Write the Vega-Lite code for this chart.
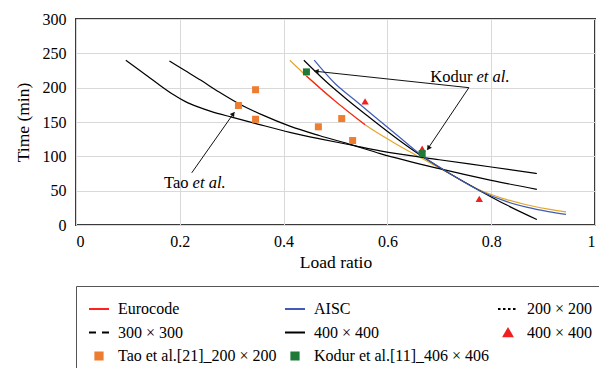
{
  "$schema": "https://vega.github.io/schema/vega-lite/v6.json",
  "width": 519,
  "height": 206,
  "autosize": "none",
  "padding": {"left": 76, "top": 19, "right": 4, "bottom": 143},
  "background": "white",
  "config": {
    "font": "Liberation Serif",
    "view": {"stroke": "#3a3a3a", "strokeWidth": 2},
    "axis": {
      "labelFont": "Liberation Serif", "titleFont": "Liberation Serif",
      "labelFontSize": 16, "titleFontSize": 17.5, "titleFontWeight": "normal",
      "labelColor": "#000", "titleColor": "#000",
      "gridColor": "#d9d9d9", "gridWidth": 1, "domain": false, "ticks": false
    },
    "legend": {
      "labelFont": "Liberation Serif", "labelFontSize": 16, "labelColor": "#000", "labelLimit": 0,
      "symbolSize": 400, "symbolStrokeWidth": 1.8,
      "strokeColor": "#555", "fillColor": "#fff", "padding": 12,
      "columnPadding": 4, "rowPadding": 4.5, "labelOffset": 8
    }
  },
  "datasets": {
    "curves": [
      {"s": "300 × 300", "x": 0.096, "y": 240}, {"s": "300 × 300", "x": 0.125, "y": 224}, {"s": "300 × 300", "x": 0.155, "y": 207},
      {"s": "300 × 300", "x": 0.185, "y": 191}, {"s": "300 × 300", "x": 0.21, "y": 180}, {"s": "300 × 300", "x": 0.235, "y": 172},
      {"s": "300 × 300", "x": 0.26, "y": 165.5}, {"s": "300 × 300", "x": 0.3, "y": 157}, {"s": "300 × 300", "x": 0.35, "y": 147},
      {"s": "300 × 300", "x": 0.412, "y": 135}, {"s": "300 × 300", "x": 0.47, "y": 125.5},
      {"s": "300 × 300", "x": 0.53, "y": 116.5}, {"s": "300 × 300", "x": 0.586, "y": 108}, {"s": "300 × 300", "x": 0.7, "y": 95},
      {"s": "300 × 300", "x": 0.8, "y": 84.5}, {"s": "300 × 300", "x": 0.888, "y": 75},
      {"s": "200 × 200", "x": 0.18, "y": 239}, {"s": "200 × 200", "x": 0.21, "y": 225}, {"s": "200 × 200", "x": 0.24, "y": 211},
      {"s": "200 × 200", "x": 0.275, "y": 194}, {"s": "200 × 200", "x": 0.313, "y": 177}, {"s": "200 × 200", "x": 0.36, "y": 160},
      {"s": "200 × 200", "x": 0.412, "y": 144}, {"s": "200 × 200", "x": 0.47, "y": 130}, {"s": "200 × 200", "x": 0.53, "y": 117},
      {"s": "200 × 200", "x": 0.586, "y": 104}, {"s": "200 × 200", "x": 0.7, "y": 82}, {"s": "200 × 200", "x": 0.8, "y": 65},
      {"s": "200 × 200", "x": 0.888, "y": 52},
      {"s": "400 × 400", "x": 0.439, "y": 240}, {"s": "400 × 400", "x": 0.486, "y": 206}, {"s": "400 × 400", "x": 0.525, "y": 181},
      {"s": "400 × 400", "x": 0.565, "y": 157}, {"s": "400 × 400", "x": 0.62, "y": 125}, {"s": "400 × 400", "x": 0.663, "y": 102},
      {"s": "400 × 400", "x": 0.72, "y": 75}, {"s": "400 × 400", "x": 0.778, "y": 50}, {"s": "400 × 400", "x": 0.83, "y": 29},
      {"s": "400 × 400", "x": 0.888, "y": 8},
      {"s": "AISC", "x": 0.459, "y": 240}, {"s": "AISC", "x": 0.499, "y": 206}, {"s": "AISC", "x": 0.537, "y": 182},
      {"s": "AISC", "x": 0.575, "y": 158}, {"s": "AISC", "x": 0.62, "y": 130}, {"s": "AISC", "x": 0.663, "y": 103},
      {"s": "AISC", "x": 0.72, "y": 75}, {"s": "AISC", "x": 0.778, "y": 50}, {"s": "AISC", "x": 0.83, "y": 34},
      {"s": "AISC", "x": 0.868, "y": 26}, {"s": "AISC", "x": 0.91, "y": 19.5}, {"s": "AISC", "x": 0.944, "y": 15.5},
      {"s": "Eurocode", "x": 0.444, "y": 217}, {"s": "Eurocode", "x": 0.5, "y": 180}, {"s": "Eurocode", "x": 0.557, "y": 146}
    ],
    "yellow": [
      {"x": 0.412, "y": 240}, {"x": 0.444, "y": 217}, {"x": 0.5, "y": 180}, {"x": 0.557, "y": 146},
      {"x": 0.61, "y": 121}, {"x": 0.669, "y": 96}, {"x": 0.72, "y": 74.5}, {"x": 0.778, "y": 51},
      {"x": 0.83, "y": 37}, {"x": 0.868, "y": 29.5}, {"x": 0.91, "y": 23}, {"x": 0.944, "y": 19}
    ],
    "tao": [
      {"s": "Tao et al.[21]_200 × 200", "x": 0.313, "y": 174}, {"s": "Tao et al.[21]_200 × 200", "x": 0.346, "y": 197},
      {"s": "Tao et al.[21]_200 × 200", "x": 0.346, "y": 154}, {"s": "Tao et al.[21]_200 × 200", "x": 0.467, "y": 143},
      {"s": "Tao et al.[21]_200 × 200", "x": 0.512, "y": 155}, {"s": "Tao et al.[21]_200 × 200", "x": 0.533, "y": 123}
    ],
    "kodur": [
      {"s": "Kodur et al.[11]_406 × 406", "x": 0.444, "y": 223}, {"s": "Kodur et al.[11]_406 × 406", "x": 0.667, "y": 104}
    ],
    "tri": [
      {"s": "400 × 400 ", "x": 0.557, "y": 180}, {"s": "400 × 400 ", "x": 0.667, "y": 111}, {"s": "400 × 400 ", "x": 0.777, "y": 38}
    ],
    "arrows": [
      {"x": 0.223, "y": 76, "x2": 0.305, "y2": 164},
      {"x": 0.757, "y": 200, "x2": 0.46, "y2": 224},
      {"x": 0.757, "y": 200, "x2": 0.677, "y2": 110}
    ],
    "normaltext": [{"t": "Tao", "x": 0.217, "y": 60.7}, {"t": "Kodur", "x": 0.764, "y": 216}],
    "italictext": [{"t": "et al.", "x": 0.217, "y": 60.7}, {"t": "et al.", "x": 0.764, "y": 216}]
  },
  "encoding": {
    "x": {"field": "x", "type": "quantitative",
      "scale": {"domain": [0, 1], "nice": false, "zero": false},
      "axis": {"title": "Load ratio", "values": [0, 0.2, 0.4, 0.6, 0.8, 1], "format": "~g", "labelPadding": 8, "titlePadding": 4, "grid": true}},
    "y": {"field": "y", "type": "quantitative",
      "scale": {"domain": [0, 300], "nice": false},
      "axis": {"title": "Time (min)", "values": [0, 50, 100, 150, 200, 250, 300], "format": "d", "labelPadding": 10, "titlePadding": 10, "grid": true}}
  },
  "layer": [
    {
      "data": {"name": "yellow"},
      "mark": {"type": "line", "color": "#e3a82a", "strokeWidth": 1.2, "interpolate": "monotone"},
      "encoding": {}
    },
    {
      "data": {"name": "curves"},
      "mark": {"type": "line", "strokeWidth": 1.2, "interpolate": "monotone"},
      "encoding": {
        "color": {
          "field": "s", "type": "nominal",
          "scale": {
            "domain": ["Eurocode", "AISC", "200 × 200", "300 × 300", "400 × 400", "400 × 400 ", "Tao et al.[21]_200 × 200", "Kodur et al.[11]_406 × 406"],
            "range": ["#ff2020", "#3f5cb8", "#000000", "#000000", "#000000", "#f02020", "#ed7d31", "#1f7a38"]
          },
          "legend": {
            "title": null, "orient": "none", "legendX": 0, "legendY": 267, "columns": 3, "direction": "horizontal",
            "encode": {
              "symbols": {
                "update": {
                  "shape": {"signal": "indexof(domain('color'), datum.value) == 5 ? 'triangle-up' : (indexof(domain('color'), datum.value) >= 6 ? 'square' : 'stroke')"},
                  "size": {"signal": "indexof(domain('color'), datum.value) == 5 ? 75 : (indexof(domain('color'), datum.value) >= 6 ? 55 : 400)"},
                  "fill": {"signal": "indexof(domain('color'), datum.value) >= 5 ? scale('color', datum.value) : 'transparent'"},
                  "stroke": {"signal": "indexof(domain('color'), datum.value) < 5 ? scale('color', datum.value) : 'transparent'"},
                  "strokeDash": {"signal": "indexof(domain('color'), datum.value) == 2 ? [2.5, 2.5] : (indexof(domain('color'), datum.value) == 3 ? [7, 6] : [1, 0])"},
                  "strokeWidth": {"value": 1.8},
                  "opacity": {"value": 1}
                }
              }
            }
          }
        }
      }
    },
    {
      "data": {"name": "tao"},
      "mark": {"type": "point", "shape": "square", "filled": true, "size": 49, "opacity": 1},
      "encoding": {"color": {"field": "s", "type": "nominal"}}
    },
    {
      "data": {"name": "tri"},
      "mark": {"type": "point", "shape": "triangle-up", "filled": true, "size": 55, "opacity": 1},
      "encoding": {"color": {"field": "s", "type": "nominal"}}
    },
    {
      "data": {"name": "kodur"},
      "mark": {"type": "point", "shape": "square", "filled": true, "size": 49, "opacity": 1},
      "encoding": {"color": {"field": "s", "type": "nominal"}}
    },
    {
      "data": {"name": "arrows"},
      "mark": {"type": "rule", "color": "#111", "strokeWidth": 1},
      "encoding": {"x2": {"field": "x2"}, "y2": {"field": "y2"}}
    },
    {
      "data": {"values": [{"x": 0.303, "y": 162}]},
      "mark": {"type": "point", "shape": "triangle-up", "filled": true, "size": 28, "color": "#111", "opacity": 1, "angle": 36},
      "encoding": {}
    },
    {
      "data": {"values": [{"x": 0.463, "y": 223.8}]},
      "mark": {"type": "point", "shape": "triangle-up", "filled": true, "size": 28, "color": "#111", "opacity": 1, "angle": 276},
      "encoding": {}
    },
    {
      "data": {"values": [{"x": 0.679, "y": 111.8}]},
      "mark": {"type": "point", "shape": "triangle-up", "filled": true, "size": 28, "color": "#111", "opacity": 1, "angle": 214},
      "encoding": {}
    },
    {
      "data": {"name": "normaltext"},
      "mark": {"type": "text", "align": "right", "baseline": "middle", "font": "Liberation Serif", "fontSize": 16.5, "color": "#000"},
      "encoding": {"text": {"field": "t"}}
    },
    {
      "data": {"name": "italictext"},
      "mark": {"type": "text", "align": "left", "baseline": "middle", "font": "Liberation Serif", "fontStyle": "italic", "fontSize": 16.5, "color": "#000", "dx": 4},
      "encoding": {"text": {"field": "t"}}
    }
  ]
}
